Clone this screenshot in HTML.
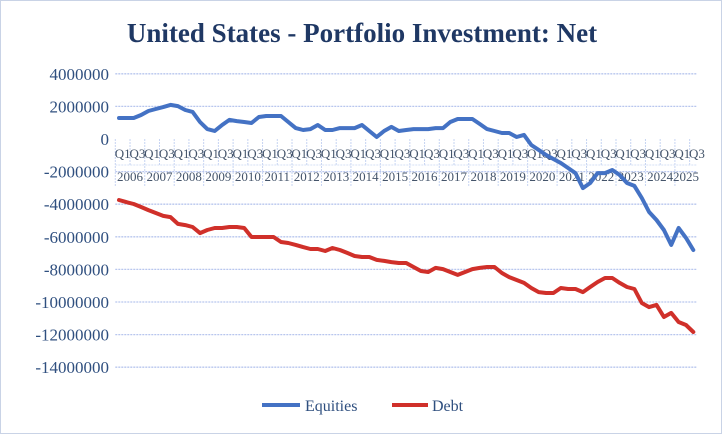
<!DOCTYPE html>
<html><head><meta charset="utf-8"><style>
body{margin:0;background:#fff;}
svg{display:block;font-family:"Liberation Serif",serif;}
</style></head><body>
<svg width="722" height="434" viewBox="0 0 722 434">
<rect x="0.5" y="0.5" width="721" height="433" fill="#fff" stroke="#c9d3e6"/>
<text x="362" y="42" text-anchor="middle" font-size="27" font-weight="bold" fill="#1F3864">United States - Portfolio Investment: Net</text>
<g id="grid"></g><g id="yaxis"></g><g id="xaxis"></g><g id="series"></g>
<g>
<line x1="262" y1="405" x2="300" y2="405" stroke="#4472C4" stroke-width="4"/>
<text x="305" y="411" font-size="16" fill="#2F4F7F">Equities</text>
<line x1="392" y1="405" x2="428" y2="405" stroke="#D0302A" stroke-width="4"/>
<text x="432" y="411" font-size="16" fill="#2F4F7F">Debt</text>
</g>
</svg>
<script>
const years=[2006,2007,2008,2009,2010,2011,2012,2013,2014,2015,2016,2017,2018,2019,2020,2021,2022,2023,2024,2025];
const yTicks=[4000000,2000000,0,-2000000,-4000000,-6000000,-8000000,-10000000,-12000000,-14000000];
const equities=[1.29,1.29,1.29,1.47,1.72,1.84,1.96,2.09,2.02,1.78,1.66,1.04,0.61,0.49,0.86,1.17,1.10,1.04,0.98,1.35,1.41,1.41,1.41,1.04,0.67,0.55,0.61,0.86,0.55,0.55,0.67,0.67,0.67,0.86,0.49,0.12,0.49,0.74,0.49,0.55,0.61,0.61,0.61,0.67,0.67,1.04,1.23,1.23,1.23,0.92,0.61,0.49,0.37,0.37,0.12,0.25,-0.37,-0.67,-0.98,-1.23,-1.47,-1.78,-2.09,-3.01,-2.70,-2.09,-2.09,-1.90,-2.21,-2.70,-2.88,-3.62,-4.48,-4.97,-5.58,-6.50,-5.46,-6.07,-6.81];
const debt=[-3.74,-3.87,-3.99,-4.17,-4.36,-4.54,-4.72,-4.79,-5.21,-5.28,-5.40,-5.77,-5.58,-5.46,-5.46,-5.40,-5.40,-5.46,-6.01,-6.01,-6.01,-6.01,-6.32,-6.38,-6.50,-6.63,-6.75,-6.75,-6.87,-6.69,-6.81,-6.99,-7.18,-7.24,-7.24,-7.42,-7.48,-7.55,-7.61,-7.61,-7.85,-8.10,-8.16,-7.91,-7.98,-8.16,-8.34,-8.16,-7.98,-7.91,-7.85,-7.85,-8.22,-8.47,-8.65,-8.83,-9.14,-9.39,-9.45,-9.45,-9.14,-9.20,-9.20,-9.39,-9.08,-8.77,-8.53,-8.53,-8.83,-9.08,-9.20,-10.06,-10.31,-10.18,-10.92,-10.67,-11.23,-11.41,-11.84];
const NS="http://www.w3.org/2000/svg";
const N=equities.length, left=115.3, right=697, step=(right-left)/N;
function xc(i){return left+step*(i+0.5);}
function yv(v){return 139-v*32.6/2000000;}
function mk(t,a,p){const e=document.createElementNS(NS,t);for(const k in a)e.setAttribute(k,a[k]);p.appendChild(e);return e;}
const grid=document.getElementById('grid'),ya=document.getElementById('yaxis'),xa=document.getElementById('xaxis'),se=document.getElementById('series');
yTicks.forEach(v=>{
  if(v!==0){const g=mk('line',{x1:left,x2:right,y1:yv(v),y2:yv(v),stroke:'#b8c6ee','stroke-width':1.3,'stroke-dasharray':'2,1'},grid);
  
  }
  const t=mk('text',{x:109,y:yv(v)+6,'text-anchor':'end','font-size':17,fill:'#2F4F7F'},ya);
  
  
  t.textContent=v;
});
for(let i=0;i<=N;i+=2){
  const x=left+step*i;
  const l=mk('line',{x1:x,x2:x,y1:139,y2:(i%4===0)?187:165,stroke:'#c6d4f2','stroke-width':1,'stroke-dasharray':'2,1'},xa);
  
  
}
mk('line',{x1:left,x2:right,y1:165,y2:165,stroke:'#d6e0f5','stroke-width':1,'stroke-dasharray':'2,1'},xa);
for(let i=0;i<N;i+=2){
  const t=mk('text',{x:left+step*(i+1),y:158,'text-anchor':'middle','font-size':13,fill:'#44546A'},xa);
  
  
  t.textContent=(i%4===0)?'Q1':'Q3';
}
years.forEach((y,k)=>{
  const i0=k*4,i1=Math.min(N,k*4+4);
  const t=mk('text',{x:left+step*(i0+i1)/2,y:181,'text-anchor':'middle','font-size':13,fill:'#44546A'},xa);
  
  
  t.textContent=y;
});
function line(data,color,name){
  const d=data.map((v,i)=>(i?'L':'M')+xc(i).toFixed(1)+','+yv(v*1e6).toFixed(1)).join('');
  const p=mk('path',{d:d,fill:'none',stroke:color,'stroke-width':4,'stroke-linejoin':'round','stroke-linecap':'round'},se);
  
  
}
line(equities,'#4472C4','equities-line');
line(debt,'#D0302A','debt-line');
</script>
</body></html>
